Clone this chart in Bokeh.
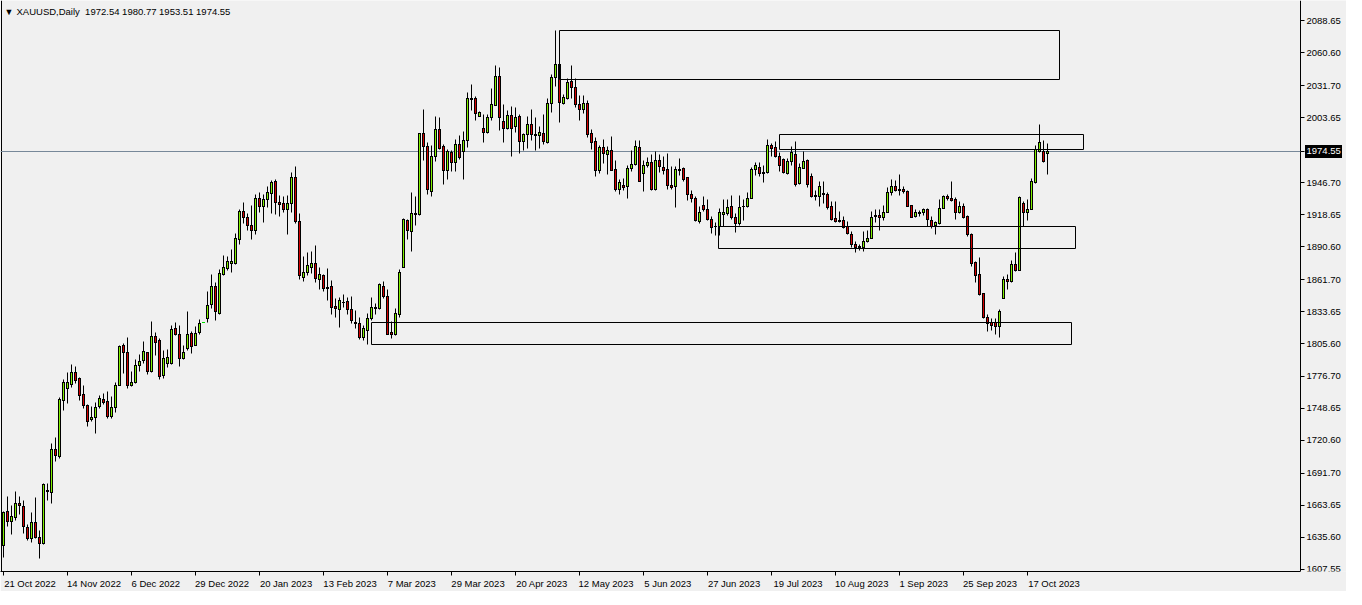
import numpy as np
from bokeh.plotting import figure
from bokeh.models import Range1d, FixedTicker, CustomJSTickFormatter, Label
from bokeh.core.properties import value
from bokeh.embed import file_html
from bokeh.resources import INLINE

symbol_title = "XAUUSD,Daily \u00a01972.54 1980.77 1953.51 1974.55"
last_price = 1974.55

date_labels = ["21 Oct 2022", "14 Nov 2022", "6 Dec 2022", "29 Dec 2022", "20 Jan 2023",
               "13 Feb 2023", "7 Mar 2023", "29 Mar 2023", "20 Apr 2023", "12 May 2023",
               "5 Jun 2023", "27 Jun 2023", "19 Jul 2023", "10 Aug 2023", "1 Sep 2023",
               "25 Sep 2023", "17 Oct 2023"]
bars_per_label = 16

price_ticks = [2088.65, 2060.60, 2031.70, 2003.65, 1946.70, 1918.65, 1890.60, 1861.70,
               1833.65, 1805.60, 1776.70, 1748.65, 1720.60, 1691.70, 1663.65, 1635.60, 1607.55]

opens = [1628.5, 1658.5, 1649.9, 1653.3, 1665.4, 1662.8, 1643.9, 1634.2, 1648.2, 1635.3,
         1629.9, 1675.4, 1674.8, 1712.5, 1706.3, 1755.4, 1766.3, 1769.7, 1779.8, 1775.0,
         1760.9, 1751.4, 1738.9, 1740.9, 1750.0, 1756.3, 1754.9, 1741.4, 1749.2, 1769.2,
         1803.5, 1797.8, 1768.6, 1771.5, 1786.0, 1790.6, 1797.8, 1780.9, 1812.1, 1808.1,
         1777.2, 1788.0, 1787.8, 1818.9, 1813.8, 1792.9, 1800.9, 1814.1, 1804.1, 1815.5,
         1824.1, 1827.5, 1839.8, 1855.3, 1831.8, 1866.1, 1871.8, 1876.1, 1875.6, 1897.3,
         1921.3, 1916.2, 1909.3, 1904.5, 1932.5, 1925.9, 1931.6, 1937.3, 1947.9, 1929.6,
         1928.2, 1923.3, 1928.8, 1951.1, 1912.7, 1863.5, 1867.8, 1872.7, 1875.8, 1861.5,
         1865.6, 1855.0, 1855.3, 1837.8, 1835.2, 1841.5, 1842.4, 1835.5, 1824.1, 1823.5,
         1811.2, 1817.2, 1827.5, 1836.4, 1836.1, 1855.3, 1847.3, 1814.9, 1813.8, 1830.7,
         1872.7, 1913.6, 1903.9, 1918.5, 1918.5, 1989.7, 1978.5, 1939.1, 1969.9, 1993.1,
         1978.5, 1957.4, 1972.8, 1964.5, 1980.2, 1973.7, 1983.7, 2020.9, 2020.6, 2005.1,
         1994.0, 1991.1, 2004.3, 2014.6, 2040.3, 2000.8, 1994.5, 2006.0, 1995.7, 2005.1,
         1982.5, 1989.4, 1997.4, 1989.1, 1988.0, 1989.7, 1982.0, 2016.0, 2039.4, 2050.6,
         2016.6, 2020.6, 2035.2, 2030.0, 2015.7, 2010.9, 2016.3, 1989.7, 1982.8, 1957.4,
         1977.7, 1971.4, 1975.1, 1957.9, 1940.8, 1944.5, 1943.1, 1959.4, 1962.8, 1978.0,
         1955.1, 1961.4, 1964.2, 1940.8, 1965.9, 1960.5, 1958.2, 1944.5, 1943.3, 1957.6,
         1958.8, 1951.1, 1936.8, 1933.1, 1913.0, 1927.0, 1923.6, 1914.2, 1908.5, 1907.9,
         1919.0, 1919.9, 1926.2, 1916.2, 1911.3, 1925.6, 1925.9, 1932.8, 1957.9, 1960.5,
         1954.8, 1955.4, 1979.4, 1977.7, 1969.9, 1967.4, 1955.1, 1965.7, 1971.7, 1946.2,
         1959.4, 1966.2, 1951.9, 1935.3, 1934.8, 1937.3, 1936.5, 1925.6, 1915.0, 1913.3,
         1913.3, 1908.2, 1901.6, 1892.4, 1889.9, 1889.9, 1895.0, 1897.9, 1917.3, 1917.6,
         1916.2, 1921.0, 1938.5, 1943.3, 1940.5, 1941.1, 1939.1, 1926.5, 1917.0, 1919.6,
         1920.2, 1923.6, 1913.3, 1909.0, 1910.5, 1924.5, 1934.2, 1933.3, 1932.2, 1920.2,
         1925.6, 1917.0, 1901.3, 1876.4, 1866.1, 1849.3, 1828.1, 1823.8, 1824.1, 1820.7,
         1844.7, 1861.8, 1860.1, 1874.7, 1869.3, 1928.8, 1920.2, 1923.6, 1947.1, 1974.2,
         1973.7, 1972.54]

highs = [1658.2, 1671.6, 1663.4, 1675.9, 1671.6, 1668.2, 1646.8, 1657.6, 1670.8, 1641.3,
         1682.5, 1682.5, 1717.7, 1722.8, 1758.3, 1773.7, 1780.0, 1787.5, 1785.8, 1775.5,
         1768.6, 1752.0, 1750.6, 1753.7, 1760.3, 1761.5, 1763.7, 1759.5, 1771.2, 1804.1,
         1805.5, 1810.6, 1781.5, 1791.8, 1795.8, 1807.2, 1798.1, 1825.2, 1815.5, 1809.8,
         1799.5, 1800.1, 1821.5, 1824.4, 1821.8, 1804.1, 1833.8, 1816.1, 1820.9, 1826.7,
         1824.1, 1851.0, 1866.4, 1859.5, 1871.0, 1882.7, 1881.9, 1887.9, 1902.4, 1923.0,
         1929.6, 1919.6, 1926.5, 1936.2, 1938.5, 1936.8, 1943.6, 1949.1, 1949.6, 1935.9,
         1934.8, 1935.6, 1955.6, 1960.8, 1919.6, 1881.6, 1885.6, 1886.4, 1891.3, 1872.1,
         1866.4, 1871.6, 1861.3, 1845.5, 1846.4, 1848.4, 1846.4, 1847.0, 1834.9, 1828.7,
         1821.2, 1832.4, 1845.8, 1840.4, 1858.4, 1859.8, 1852.7, 1825.2, 1836.4, 1870.4,
         1915.6, 1914.5, 1938.5, 1934.2, 1990.0, 2010.6, 1981.7, 1979.4, 2004.5, 2003.7,
         1980.5, 1976.2, 1975.4, 1984.8, 1988.0, 1991.7, 2026.0, 2032.9, 2022.3, 2009.4,
         2006.6, 2006.8, 2029.4, 2049.2, 2048.0, 2015.4, 2009.7, 2014.0, 2012.8, 2006.3,
         1989.7, 2005.1, 2010.6, 2003.7, 1996.0, 2006.8, 2020.3, 2041.7, 2080.1, 2050.6,
         2024.3, 2038.6, 2049.2, 2038.0, 2023.1, 2022.9, 2019.1, 1993.7, 1986.3, 1979.4,
         1984.8, 1978.5, 1987.1, 1965.9, 1949.9, 1950.2, 1962.2, 1975.1, 1984.2, 1984.0,
         1965.9, 1968.8, 1971.1, 1973.9, 1971.7, 1969.9, 1972.0, 1960.8, 1960.8, 1967.9,
         1960.2, 1951.1, 1940.2, 1934.2, 1926.2, 1934.2, 1932.2, 1917.0, 1912.2, 1924.2,
         1931.9, 1931.6, 1935.3, 1919.9, 1935.6, 1931.9, 1937.9, 1960.5, 1964.5, 1964.8,
         1961.4, 1984.8, 1981.4, 1982.8, 1972.8, 1968.2, 1967.9, 1978.5, 1982.8, 1963.7,
         1973.9, 1967.1, 1955.1, 1939.9, 1947.6, 1947.4, 1938.5, 1930.5, 1930.5, 1921.6,
         1917.3, 1912.5, 1903.9, 1895.0, 1892.4, 1903.6, 1905.0, 1921.3, 1923.6, 1922.8,
         1926.5, 1942.2, 1949.6, 1948.8, 1953.7, 1943.1, 1939.9, 1927.1, 1923.6, 1922.2,
         1924.5, 1923.9, 1917.0, 1912.5, 1932.2, 1935.1, 1936.2, 1947.6, 1933.6, 1929.9,
         1928.5, 1917.9, 1902.2, 1877.9, 1880.7, 1849.8, 1831.2, 1827.2, 1827.2, 1835.2,
         1864.7, 1866.1, 1878.4, 1885.6, 1934.5, 1930.2, 1931.9, 1950.8, 1979.4, 1998.0,
         1983.7, 1980.77]

lows = [1618.2, 1644.8, 1638.5, 1650.5, 1655.6, 1639.0, 1632.8, 1631.3, 1634.8, 1617.0,
        1629.0, 1667.6, 1665.4, 1702.5, 1704.8, 1747.2, 1753.4, 1766.9, 1770.6, 1755.2,
        1748.3, 1732.9, 1737.1, 1726.3, 1748.6, 1751.7, 1739.7, 1740.0, 1745.4, 1768.6,
        1779.2, 1766.3, 1767.7, 1770.6, 1781.5, 1787.8, 1778.3, 1780.6, 1795.2, 1774.0,
        1774.9, 1784.3, 1787.2, 1812.7, 1785.2, 1791.8, 1799.8, 1797.2, 1803.8, 1813.2,
        1824.1, 1823.8, 1836.7, 1825.5, 1830.9, 1865.6, 1869.8, 1867.6, 1875.3, 1892.4,
        1910.7, 1904.5, 1897.0, 1901.0, 1920.7, 1912.2, 1925.0, 1919.9, 1919.0, 1917.3,
        1921.0, 1901.0, 1920.8, 1911.3, 1862.1, 1860.1, 1865.0, 1867.0, 1859.0, 1853.3,
        1851.5, 1843.5, 1830.7, 1828.4, 1819.8, 1837.5, 1830.7, 1823.5, 1819.2, 1809.2,
        1808.4, 1804.9, 1826.1, 1830.7, 1835.2, 1845.5, 1813.2, 1810.4, 1812.9, 1828.4,
        1872.1, 1896.5, 1886.4, 1909.3, 1917.9, 1966.5, 1936.5, 1934.5, 1965.1, 1975.7,
        1944.8, 1949.9, 1956.2, 1956.2, 1967.4, 1949.9, 1977.4, 2010.3, 2001.7, 2004.5,
        1982.0, 1990.3, 2001.7, 2014.6, 1992.8, 1982.0, 1993.7, 1969.9, 1990.8, 1972.2,
        1975.1, 1976.5, 1983.7, 1975.1, 1977.1, 1980.0, 1980.8, 2008.6, 2030.9, 1999.7,
        2015.7, 2019.4, 2020.9, 2012.3, 2001.7, 2007.4, 1986.0, 1975.7, 1952.5, 1955.1,
        1963.7, 1954.2, 1957.4, 1938.8, 1936.8, 1939.9, 1932.8, 1956.5, 1961.4, 1947.9,
        1938.8, 1960.2, 1940.2, 1940.2, 1955.9, 1954.2, 1940.5, 1940.8, 1925.0, 1953.4,
        1947.4, 1930.8, 1929.3, 1913.0, 1910.7, 1921.6, 1913.9, 1902.2, 1900.4, 1900.7,
        1908.2, 1917.9, 1914.5, 1902.7, 1909.3, 1913.6, 1925.0, 1932.5, 1952.8, 1952.2,
        1946.5, 1955.1, 1969.9, 1969.1, 1956.5, 1955.1, 1953.9, 1961.9, 1943.1, 1945.4,
        1958.8, 1942.2, 1933.6, 1930.8, 1925.9, 1928.8, 1923.0, 1913.9, 1911.9, 1912.2,
        1906.4, 1901.6, 1890.2, 1885.9, 1887.3, 1886.2, 1894.1, 1897.6, 1911.6, 1905.0,
        1913.9, 1920.8, 1935.1, 1938.8, 1935.1, 1937.3, 1925.6, 1915.9, 1916.2, 1917.0,
        1917.9, 1908.7, 1906.4, 1901.3, 1910.2, 1923.9, 1931.3, 1929.9, 1914.2, 1919.6,
        1915.3, 1899.3, 1873.3, 1859.0, 1847.8, 1827.8, 1816.1, 1817.2, 1813.5, 1811.2,
        1844.7, 1853.3, 1859.6, 1868.4, 1869.3, 1908.7, 1913.3, 1923.6, 1945.6, 1972.8,
        1964.2, 1953.51]

closes = [1657.6, 1649.9, 1654.2, 1665.4, 1663.4, 1644.8, 1634.2, 1648.2, 1635.6, 1629.9,
          1681.9, 1676.8, 1712.5, 1707.1, 1756.3, 1771.2, 1771.7, 1779.8, 1773.5, 1760.3,
          1751.2, 1737.1, 1740.9, 1749.4, 1757.2, 1754.0, 1741.4, 1749.4, 1768.6, 1802.9,
          1797.5, 1768.9, 1771.7, 1786.3, 1789.8, 1798.3, 1780.9, 1811.5, 1806.9, 1776.6,
          1792.3, 1793.2, 1818.1, 1813.2, 1792.3, 1798.1, 1813.8, 1803.2, 1814.6, 1823.5,
          1824.1, 1838.9, 1855.3, 1833.5, 1867.3, 1872.4, 1877.3, 1877.3, 1897.9, 1921.3,
          1916.5, 1909.0, 1904.7, 1933.0, 1925.9, 1931.6, 1937.9, 1947.1, 1929.6, 1927.6,
          1923.3, 1928.8, 1951.1, 1913.0, 1865.0, 1868.1, 1874.1, 1875.8, 1862.4, 1866.1,
          1854.1, 1854.1, 1836.9, 1836.7, 1843.3, 1841.5, 1835.2, 1825.8, 1822.9, 1811.2,
          1818.4, 1827.8, 1836.9, 1837.2, 1857.0, 1847.3, 1813.8, 1813.8, 1831.8, 1868.1,
          1914.2, 1904.5, 1919.3, 1919.6, 1989.7, 1978.5, 1940.8, 1969.9, 1993.1, 1976.8,
          1957.4, 1974.2, 1964.5, 1980.2, 1969.1, 1983.7, 2020.6, 2019.7, 2007.4, 2008.6,
          1991.1, 2004.3, 2015.4, 2040.3, 2004.3, 1994.5, 2006.0, 1994.5, 2004.3, 1982.5,
          1988.8, 1997.4, 1989.4, 1988.0, 1990.5, 1982.8, 2016.3, 2039.4, 2050.6, 2017.1,
          2021.4, 2034.3, 2030.0, 2015.1, 2010.9, 2016.6, 1989.4, 1981.7, 1957.4, 1977.7,
          1972.2, 1975.1, 1957.6, 1941.1, 1946.8, 1942.2, 1959.1, 1963.1, 1978.5, 1948.2,
          1962.2, 1964.5, 1940.8, 1965.9, 1961.1, 1957.6, 1943.9, 1942.2, 1958.2, 1958.2,
          1949.9, 1936.2, 1932.8, 1913.9, 1921.0, 1923.3, 1914.2, 1907.3, 1907.9, 1920.2,
          1920.2, 1925.3, 1915.9, 1911.3, 1925.3, 1925.6, 1933.1, 1957.9, 1961.4, 1955.1,
          1955.9, 1979.4, 1976.8, 1969.9, 1962.2, 1955.4, 1965.7, 1972.8, 1945.4, 1959.7,
          1965.7, 1944.8, 1934.2, 1934.8, 1943.3, 1936.5, 1925.0, 1914.2, 1912.5, 1912.7,
          1907.6, 1901.9, 1892.2, 1889.9, 1890.4, 1895.3, 1897.9, 1915.9, 1917.9, 1915.9,
          1921.0, 1938.5, 1943.3, 1940.2, 1939.9, 1938.8, 1926.2, 1916.5, 1920.5, 1920.2,
          1922.8, 1914.2, 1908.4, 1911.6, 1924.5, 1934.2, 1932.8, 1930.8, 1920.2, 1925.6,
          1915.9, 1901.3, 1875.6, 1865.3, 1849.0, 1828.1, 1823.2, 1821.5, 1820.7, 1833.5,
          1861.8, 1860.1, 1874.7, 1869.3, 1933.6, 1920.8, 1923.6, 1947.6, 1975.7, 1982.2,
          1965.1, 1974.55]

# marked zones: first bar, last bar, upper and lower price
zone_start = [139, 194, 178.75, 92]
zone_end = [263.9, 269.9, 267.9, 266.9]
zone_high = [2080.6, 1989.1, 1908.2, 1824.1]
zone_low = [2037.7, 1975.7, 1889.3, 1804.4]

# ---------------------------------------------------------------------------
BG = "#F0F0F0"
GREEN = "#80F000"
RED = "#D40000"
FONT = "Liberation Sans"
FS = "9.5px"

FRAME_W, FRAME_H = 1346, 571
PXB = 4.0                       # pixels per bar
x0 = -0.75                      # left edge of the window, in bars
y_lo, y_hi = 1605.6, 2106.6
PXP = (y_hi - y_lo) / FRAME_H   # price per pixel
x_chart_right = x0 + 1300 / PXB  # price-scale line
x_end = x0 + FRAME_W / PXB


def snap_y(v):
    """round a price to the nearest pixel row (render only)"""
    return y_hi - np.round((y_hi - np.asarray(v, dtype=float)) / PXP) * PXP


def snap_x(v):
    return x0 + np.round((np.asarray(v, dtype=float) - x0) * PXB) / PXB


o = np.array(opens); h = np.array(highs); l = np.array(lows); c = np.array(closes)
n = len(o)
idx = np.arange(n)
b_top = snap_y(np.maximum(o, c))
b_bot = snap_y(np.minimum(o, c))
w_hi = snap_y(h)
w_lo = snap_y(l)

p = figure(frame_width=FRAME_W, frame_height=FRAME_H,
           x_range=Range1d(x0, x_end), y_range=Range1d(y_lo, y_hi),
           y_axis_location=None, output_backend="svg", toolbar_location=None,
           min_border_left=0, min_border_top=0, min_border_right=0, min_border_bottom=18,
           background_fill_color=BG, border_fill_color=BG, outline_line_color=None)
p.grid.visible = False

# chart window border: left side and price-scale line
p.segment(x0=[x0 + 1 / PXB, x_chart_right], y0=[y_lo, y_lo],
          x1=[x0 + 1 / PXB, x_chart_right], y1=[y_hi, y_hi],
          line_color="black", line_width=1)

# current price line
lp = float(snap_y(last_price))
p.segment(x0=[x0], y0=[lp], x1=[x_chart_right], y1=[lp],
          line_color="#778899", line_width=1)

# wicks
p.segment(x0=idx, y0=w_lo, x1=idx, y1=w_hi, line_color="black", line_width=1)
# bodies: black frame, coloured core
p.vbar(x=idx, width=3 / PXB, top=b_top + 0.5 * PXP, bottom=b_bot - 0.5 * PXP,
       fill_color="black", line_color=None)
core = (b_top - b_bot) > 1.5 * PXP
p.vbar(x=idx[core], width=1 / PXB, top=b_top[core] - 0.5 * PXP,
       bottom=b_bot[core] + 0.5 * PXP,
       fill_color=[RED if cc < oo else GREEN for oo, cc in zip(o[core], c[core])],
       line_color=None)
flat = h == l
if flat.any():
    p.segment(x0=idx[flat] - 1.5 / PXB, y0=w_hi[flat], x1=idx[flat] + 1.5 / PXB,
              y1=w_hi[flat], line_color="#00E000", line_width=1)

# zones
p.quad(left=snap_x(zone_start), right=snap_x(zone_end), top=snap_y(zone_high),
       bottom=snap_y(zone_low), fill_alpha=0, line_color="black", line_width=1)

# price scale: tick marks and labels
ty = snap_y(price_ticks)
p.segment(x0=[x_chart_right] * len(price_ticks), y0=ty,
          x1=[x_chart_right + 4 / PXB] * len(price_ticks), y1=ty,
          line_color="black", line_width=1)
p.text(x=[x_chart_right + 6 / PXB] * len(price_ticks), y=price_ticks,
       text=[f"{t:.2f}" for t in price_ticks], text_font=value(FONT),
       text_font_size=FS, text_baseline="middle", text_align="left", text_color="black")

# current price tag
p.segment(x0=[x_chart_right], y0=[lp], x1=[x_chart_right + 4 / PXB], y1=[lp],
          line_color="black", line_width=1)
p.quad(left=[x_chart_right + 4.5 / PXB], right=[x_chart_right + 41.5 / PXB],
       top=[lp + 6.5 * PXP], bottom=[lp - 6.5 * PXP],
       fill_color="black", line_color=None)
p.text(x=[x_chart_right + 6 / PXB], y=[last_price], text=[f"{last_price:.2f}"],
       text_font=value(FONT), text_font_size=FS, text_baseline="middle",
       text_align="left", text_color="white")

# time scale
label_pos = [k * bars_per_label + (1.5 + 4.55 * len(s) / 2) / PXB
             for k, s in enumerate(date_labels)]
xax = p.xaxis[0]
xax.ticker = FixedTicker(ticks=label_pos, minor_ticks=list(range(0, n, bars_per_label)))
xax.formatter = CustomJSTickFormatter(args=dict(pos=label_pos, labels=date_labels), code="""
    let best = 0;
    for (let k = 0; k < pos.length; k++) {
        if (Math.abs(pos[k] - tick) < Math.abs(pos[best] - tick)) best = k;
    }
    return labels[best];
""")
xax.bounds = (x0, x_chart_right)
xax.axis_line_color = "black"
xax.major_tick_line_color = None
xax.major_tick_out = 4
xax.major_tick_in = 0
xax.minor_tick_line_color = "black"
xax.minor_tick_out = 4
xax.minor_tick_in = 0
xax.major_label_standoff = 2
xax.major_label_text_font = FONT
xax.major_label_text_font_size = FS
xax.major_label_text_color = "black"

# header
p.add_layout(Label(x=x0 + 4 / PXB, y=y_hi - 11 * PXP, text="\u25BC", text_font=FONT,
                   text_font_size="9px", text_baseline="middle", text_align="left",
                   text_color="black"))
p.add_layout(Label(x=x0 + 16 / PXB, y=y_hi - 11 * PXP, text=symbol_title, text_font=FONT,
                   text_font_size=FS, text_baseline="middle", text_align="left",
                   text_color="black"))

open("out.html", "w").write(file_html(p, INLINE))
